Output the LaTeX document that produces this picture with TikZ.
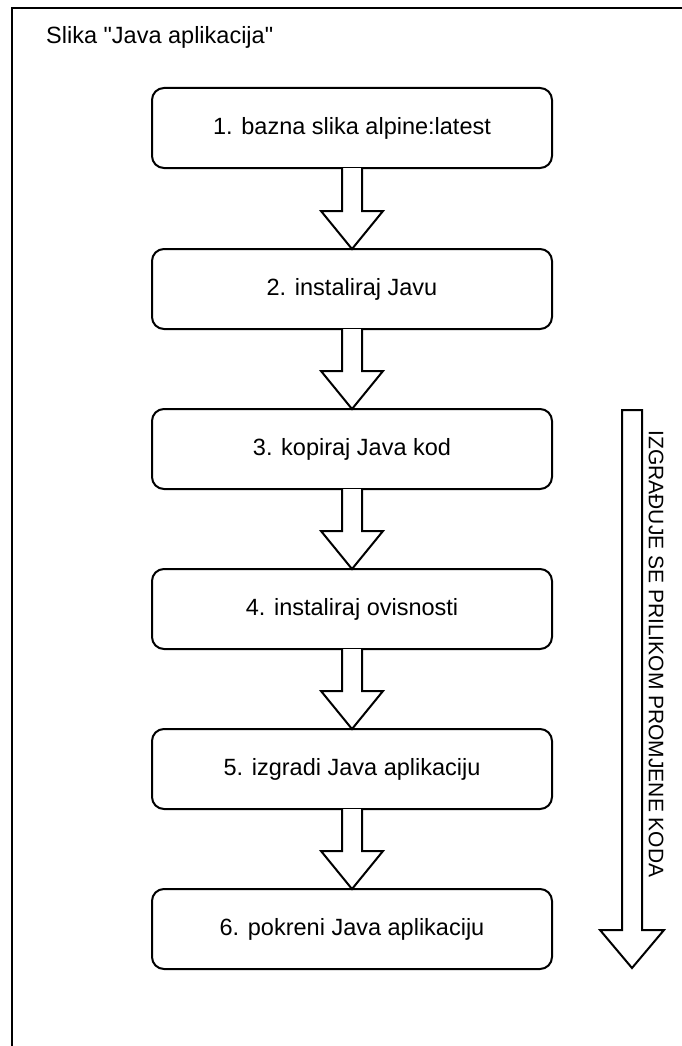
\documentclass[tikz,border=0pt]{standalone}
\usepackage{fontspec}
\setmainfont{Liberation Sans}
\usetikzlibrary{calc}
\tikzset{
  stepbox/.style={draw, line width=2pt, rounded corners=12pt, minimum width=400pt, minimum height=80pt, inner sep=0pt, outer sep=0pt, font=\fontsize{23.5}{28}\selectfont},
  barrow/.style={draw, line width=2pt, line join=miter, fill=white},
  frame/.style={draw, line width=2pt},
  lbl/.style={inner sep=0pt, font=\fontsize{23.5}{28}\selectfont}
}
\begin{document}
\begin{tikzpicture}[x=1pt,y=-1pt]
\useasboundingbox (0,0) rectangle (681,1046);
\draw[frame] (682,8) -- (12,8) -- (12,1047);
\node[lbl, anchor=west] (title) at (46,37) {Slika \textquotedbl Java aplikacija\textquotedbl};
\node[stepbox] (b1) at (352,128) {1. bazna slika alpine:latest};
\node[stepbox] (b2) at (352,289) {2. instaliraj Javu};
\node[stepbox] (b3) at (352,449) {3. kopiraj Java kod};
\node[stepbox] (b4) at (352,609) {4. instaliraj ovisnosti};
\node[stepbox] (b5) at (352,769) {5. izgradi Java aplikaciju};
\node[stepbox] (b6) at (352,929) {6. pokreni Java aplikaciju};
\foreach \a/\b in {b1/b2,b2/b3,b3/b4,b4/b5,b5/b6}{
  \draw[barrow] ($(\a.south)+(-10,0)$) -- ($(\b.north)+(-10,-38)$) -- ($(\b.north)+(-31,-38)$) -- (\b.north) -- ($(\b.north)+(31,-38)$) -- ($(\b.north)+(10,-38)$) -- ($(\a.south)+(10,0)$);
}
\coordinate (bigtop) at (632,410);
\coordinate (bigtip) at (632,968);
\draw[barrow] ($(bigtop)+(-10,0)$) -- ($(bigtip)+(-10,-38)$) -- ($(bigtip)+(-32,-38)$) -- (bigtip) -- ($(bigtip)+(32,-38)$) -- ($(bigtip)+(10,-38)$) -- ($(bigtop)+(10,0)$) -- cycle;
\node[lbl, rotate=-90, font=\fontsize{21}{25}\selectfont] (side) at (656,654) {IZGRAĐUJE SE PRILIKOM PROMJENE KODA};
\end{tikzpicture}
\end{document}
